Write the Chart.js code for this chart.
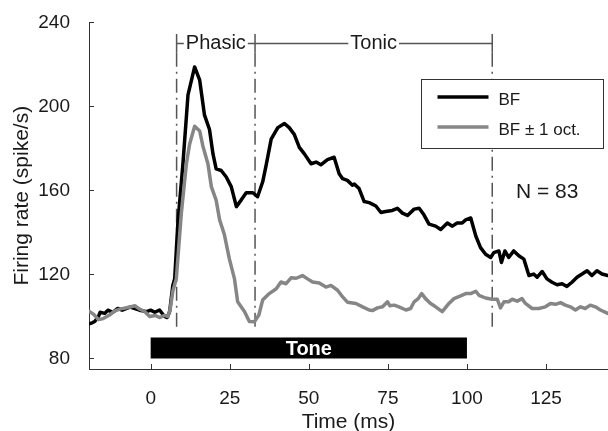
<!DOCTYPE html>
<html>
<head>
<meta charset="utf-8">
<script src="https://cdn.jsdelivr.net/npm/chart.js@4/dist/chart.umd.min.js"></script>
<style>
  html, body { margin: 0; padding: 0; background: #fff; }
  #wrap { width: 608px; height: 431px; }
</style>
</head>
<body>
<div id="wrap"><canvas id="psth" width="608" height="431"></canvas></div>
<script>
// population PSTH: firing rate at BF vs. BF +/- 1 octave

const bfTime = [
  -19.5, -18.5, -17.7, -16.5, -16, -14.5, -13.5, -12, -10.4, -9, -8.2, -6.5, -5, -3.5, -1.3, 0,
  1.3, 2.8, 4.4, 5.2, 6, 7, 7.6, 8.6, 10.2, 11.8, 13.9, 15.5, 17, 18.6, 19.7, 20.7, 22.3, 23.9,
  25.5, 27.1, 28.6, 30.2, 32.3, 33.8, 35.4, 36.5, 38.1, 40.2, 42.3, 43.8, 45.4, 47, 48.6, 50.7,
  52.3, 53.8, 55.9, 58, 59.6, 60.7, 62.2, 63.8, 64.4, 65.9, 67.5, 69.1, 71.2, 72.8, 74.3, 76.4,
  78, 79.6, 81.2, 83.3, 84.9, 86.4, 88, 90.1, 91.7, 93.8, 95.4, 96.9, 98.5, 99.6, 101.2, 102.8,
  104.3, 105.9, 107.5, 108.5, 110.1, 110.9, 112, 113.2, 114.8, 116.4, 118, 119.6, 121.1, 122.2,
  123.8, 125.3, 126.9, 128.5, 130.1, 131.6, 133.2, 134.8, 136.4, 138, 139.5, 141.1, 142.7, 144.5
];
const bfRate = [
  96.5, 97, 97.6, 100, 102, 101.5, 103, 102, 103.8, 103, 103.5, 104.5, 103.8, 103, 102.3, 103,
  102, 103.1, 100, 99.5, 102.3, 114.8, 118, 144.5, 172.7, 205.5, 218.8, 212.5, 196, 189, 177.4, 170.3, 169.5, 166.4,
  161.7, 152.3, 155.4, 158.9, 158.9, 157, 164, 171.9, 184.4, 189.9, 191.9, 189.9, 186.7, 180.5, 177.4, 172.7,
  173.5, 172.2, 174.7, 175.8, 168, 165.6, 164.8, 162.5, 163, 160.9, 154.7, 154.2, 152.6, 149.5, 150, 150.5,
  151.5, 149.2, 148.1, 151.1, 151.5, 148.4, 144, 143, 141.4, 144.5, 143, 144.5, 144.5, 146, 146.9, 138.3,
  132.8, 129.6, 128.1, 130.4, 131.2, 125.7, 131.2, 128.1, 131.2, 128.9, 127.3, 119.5, 120.2, 118.7,
  121.4, 117.9, 116.3, 115.1, 115.6, 114.3, 116.3, 118.7, 120.2, 121.8, 119.5, 121.8, 120.2, 119.5
];

const octTime = [
  -19.5, -18, -16.5, -15, -13, -11.5, -9.8, -8, -6.5, -5, -3.5, -2, -0.3, 1.5, 2.8, 4.4, 5.5,
  6.2, 7, 8.1, 9.7, 11.3, 12.3, 13.9, 15.5, 16.5, 18.1, 19.2, 20.7, 21.8, 23.3, 24.9, 26.5, 27.5,
  29.7, 31.2, 32.8, 34.2, 35.4, 37.5, 39.7, 41.2, 42.8, 44.4, 46, 48, 49.6, 51.2, 53.3, 55.4, 57,
  59.1, 60.7, 62.2, 64.9, 67, 69.1, 70.1, 71.7, 73.3, 74.9, 75.6, 77, 78.5, 80.7, 82.2, 83.3, 84.6,
  85.7, 86.9, 88.5, 90.1, 92.2, 94.3, 95.9, 98, 99.6, 101.2, 102.8, 103.8, 105.9, 108, 109.6, 110.6,
  111.7, 113.2, 114.3, 115.9, 117.4, 118.5, 120.6, 122.7, 124.8, 126.4, 128, 129.6, 131.1, 132.7,
  134.3, 135.9, 137.4, 139, 140.6, 142.2, 144.5
];
const octRate = [
  102.5, 101, 98.5, 99, 100.7, 102.5, 103.5, 104, 104.5, 105.1, 103.5, 102.5, 100, 100.5, 99.5, 100.5, 100,
  103.8, 112, 117.9, 149.2, 172.7, 182, 190.6, 188.3, 181.2, 172.7, 161.7, 155.4, 146, 139, 127.3, 117.9, 107,
  102.3, 97.6, 97.5, 100.7, 107.8, 110.9, 113.2, 116.4, 115.6, 118.4, 118.2, 119.5, 117.9, 116.4, 115.9, 114, 114.8,
  112.5, 109.3, 106.8, 106.2, 104.6, 103.1, 102.8, 104.1, 104.6, 107, 105.1, 105.4, 104.6, 103.1, 103.8, 107, 108.5,
  110.9, 108.5, 106.2, 104.6, 102.3, 106.2, 108.5, 109.8, 110.9, 110.9, 112, 110.1, 108.8, 108.2, 108.2, 104.1,
  107, 107, 108.2, 107.3, 108.5, 106.2, 103.8, 103.8, 104.6, 106.2, 105.8, 106.6, 105.4, 104.6,
  103.1, 104.6, 103.8, 105.4, 104.6, 103.1, 101.5
];

const xTicks = [0, 25, 50, 75, 100, 125];
const yTicks = [80, 120, 160, 200, 240];

// window edges (ms): response onset, phasic/tonic split, end of tonic window
const epochEdges = [8.2, 33, 108];
const epochNames = ["Phasic", "Tonic"];
const toneSpan = [0, 100];
const toneLabel = "Tone";
const nUnits = 83;

const FONT = "'Liberation Sans', Arial, Helvetica, sans-serif";
const AXIS = "#333";
const TEXT = "#1a1a1a";

Chart.defaults.font.family = FONT;
Chart.defaults.color = TEXT;

const pairs = (xs, ys) => xs.map((t, i) => ({ x: t, y: ys[i] }));

const overlay = {
  id: "overlay",
  beforeDatasetsDraw(chart) {
    const { ctx, scales: { x, y } } = chart;
    const top = y.getPixelForValue(234.5);
    const mid = y.getPixelForValue(230);
    const tickEnd = y.getPixelForValue(225.5);
    const bottom = y.getPixelForValue(95);
    ctx.save();
    ctx.strokeStyle = "#555";
    ctx.lineWidth = 1.5;

    // dash-dot window separators
    ctx.setLineDash([14, 5, 2, 5]);
    epochEdges.forEach(t => {
      const px = x.getPixelForValue(t);
      ctx.beginPath();
      ctx.moveTo(px, tickEnd);
      ctx.lineTo(px, bottom);
      ctx.stroke();
    });
    ctx.setLineDash([]);

    // bracket over the windows
    ctx.beginPath();
    ctx.moveTo(x.getPixelForValue(epochEdges[0]), mid);
    ctx.lineTo(x.getPixelForValue(epochEdges[epochEdges.length - 1]), mid);
    epochEdges.forEach(t => {
      const px = x.getPixelForValue(t);
      ctx.moveTo(px, top);
      ctx.lineTo(px, tickEnd);
    });
    ctx.stroke();

    ctx.font = "20px " + FONT;
    ctx.textAlign = "center";
    ctx.textBaseline = "middle";
    epochNames.forEach((name, i) => {
      const cx = (x.getPixelForValue(epochEdges[i]) + x.getPixelForValue(epochEdges[i + 1])) / 2;
      const w = ctx.measureText(name).width;
      ctx.fillStyle = "#fff";
      ctx.fillRect(cx - w / 2 - 2, mid - 9, w + 4, 18);
      ctx.fillStyle = TEXT;
      ctx.fillText(name, cx, mid);
    });

    // stimulus bar
    const x0 = x.getPixelForValue(toneSpan[0]);
    const x1 = x.getPixelForValue(toneSpan[1]);
    const yTop = y.getPixelForValue(90);
    const yBot = y.getPixelForValue(80);
    ctx.fillStyle = "#000";
    ctx.fillRect(x0, yTop, x1 - x0, yBot - yTop);
    ctx.fillStyle = "#fff";
    ctx.font = "bold 20px " + FONT;
    ctx.fillText(toneLabel, (x0 + x1) / 2, (yTop + yBot) / 2 + 1);
    ctx.restore();
  },
  afterDatasetsDraw(chart) {
    const { ctx, chartArea: a, scales: { x, y } } = chart;
    ctx.save();

    // inward tick marks
    ctx.strokeStyle = AXIS;
    ctx.lineWidth = 1;
    ctx.beginPath();
    xTicks.forEach(v => {
      const px = Math.round(x.getPixelForValue(v)) + 0.5;
      ctx.moveTo(px, a.bottom);
      ctx.lineTo(px, a.bottom - 5);
    });
    yTicks.forEach(v => {
      const py = Math.round(y.getPixelForValue(v)) + 0.5;
      ctx.moveTo(a.left, py);
      ctx.lineTo(a.left + 5, py);
    });
    ctx.stroke();

    // legend box
    const bw = 182, bh = 69;
    const bx = Math.round(a.right - 5 - bw) + 0.5;
    const by = Math.round(a.top + 57) + 0.5;
    ctx.fillStyle = "#fff";
    ctx.fillRect(bx, by, bw, bh);
    ctx.strokeStyle = "#333";
    ctx.lineWidth = 1;
    ctx.strokeRect(bx, by, bw, bh);
    ctx.font = "17px " + FONT;
    ctx.textAlign = "left";
    ctx.textBaseline = "middle";
    chart.data.datasets.forEach((ds, i) => {
      const ry = by + 17.5 + i * 30;
      ctx.strokeStyle = ds.borderColor;
      ctx.lineWidth = ds.borderWidth;
      ctx.beginPath();
      ctx.moveTo(bx + 16, ry);
      ctx.lineTo(bx + 67, ry);
      ctx.stroke();
      ctx.fillStyle = TEXT;
      ctx.fillText(ds.label, bx + 77, ry + 3.5);
    });

    ctx.font = "21px " + FONT;
    ctx.textBaseline = "alphabetic";
    ctx.fillText("N = " + nUnits, x.getPixelForValue(115.5), y.getPixelForValue(156.3));
    ctx.restore();
  }
};

new Chart(document.getElementById("psth"), {
  type: "line",
  data: {
    datasets: [
      {
        label: "BF",
        data: pairs(bfTime, bfRate),
        borderColor: "#000",
        borderWidth: 3.5,
        order: 1
      },
      {
        label: "BF \u00b1 1 oct.",
        data: pairs(octTime, octRate),
        borderColor: "#868686",
        borderWidth: 3.5,
        order: 0
      }
    ]
  },
  options: {
    responsive: false,
    animation: false,
    layout: { padding: { top: 16, left: 0, right: 0, bottom: 0 } },
    elements: {
      point: { radius: 0 },
      line: { tension: 0, borderJoinStyle: "round", borderCapStyle: "round" }
    },
    plugins: { legend: { display: false }, tooltip: { enabled: false } },
    scales: {
      x: {
        type: "linear",
        min: -19.5,
        max: 144.6,
        afterBuildTicks: ax => { ax.ticks = xTicks.map(v => ({ value: v })); },
        afterFit: ax => { ax.height = 62; },
        grid: { display: false },
        border: { display: true, color: AXIS, width: 1 },
        ticks: { font: { size: 19 }, color: TEXT, padding: 10, maxRotation: 0 },
        title: { display: true, text: "Time (ms)", font: { size: 21 }, color: TEXT, padding: { top: 0, bottom: -4 } }
      },
      y: {
        type: "linear",
        min: 75,
        max: 240,
        afterBuildTicks: ax => { ax.ticks = yTicks.map(v => ({ value: v })); },
        afterFit: ax => { ax.width = 89; },
        grid: { display: false },
        border: { display: true, color: AXIS, width: 1 },
        ticks: { font: { size: 19 }, color: TEXT, padding: 11 },
        title: { display: true, text: "Firing rate (spike/s)", font: { size: 21 }, color: TEXT, padding: { top: 10, bottom: 0 } }
      }
    }
  },
  plugins: [overlay]
});
</script>
</body>
</html>
